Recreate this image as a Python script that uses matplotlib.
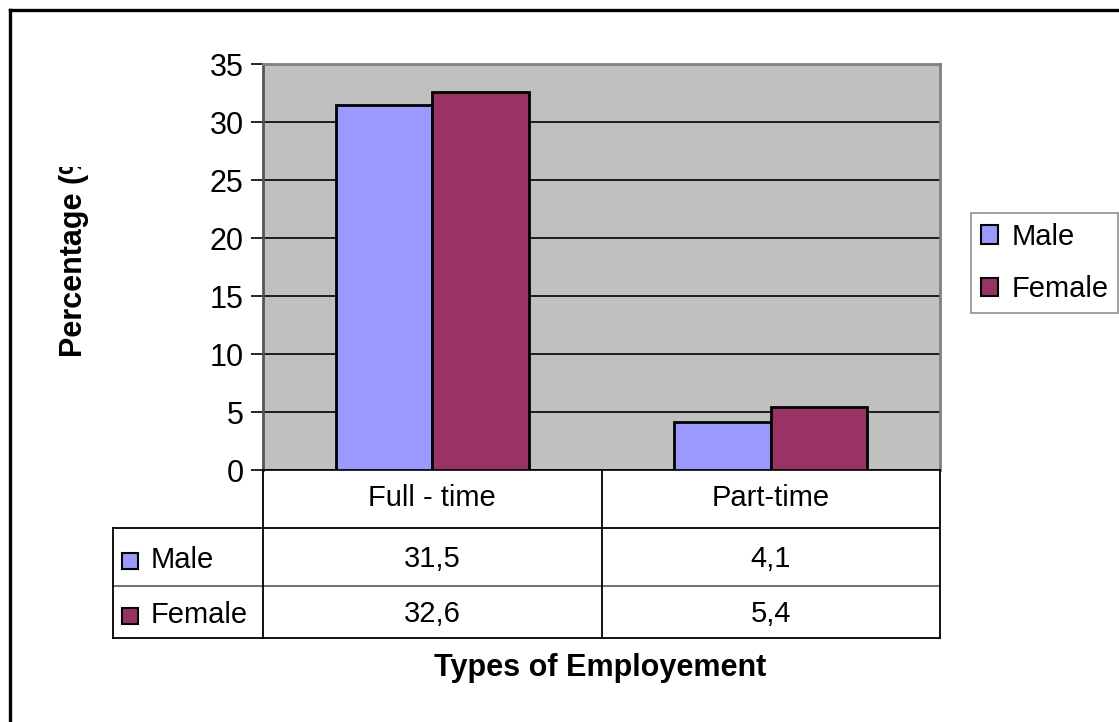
import matplotlib
matplotlib.use("Agg")
import matplotlib.pyplot as plt
import numpy as np
from matplotlib.lines import Line2D
from matplotlib.patches import Rectangle
from matplotlib import transforms

categories = ["Full - time", "Part-time"]
series_names = ["Male", "Female"]
male_values = [31.5, 4.1]
female_values = [32.6, 5.4]
y_ticks = [0, 5, 10, 15, 20, 25, 30, 35]

colors = ["#9999FF", "#993366"]
W, H = 1119, 722
FS = 21
plt.rcParams['font.family'] = ['Liberation Sans', 'DejaVu Sans']

fig = plt.figure(figsize=(W / 100, H / 100), dpi=100)
fig.patch.set_facecolor("white")

def fx(px):
    return px / W

def fy(py):
    return 1 - py / H

L, R, T, B = 263, 940, 64, 470
ax = fig.add_axes([fx(L), fy(B), fx(R) - fx(L), fy(T) - fy(B)])
ax.set_facecolor("#C0C0C0")

x = np.arange(len(categories))
bw = 0.2857
values = [male_values, female_values]
bars = []
for i, (vals, c, name) in enumerate(zip(values, colors, series_names)):
    b = ax.bar(x + (i - 0.5) * bw, vals, bw, color=c, edgecolor="black",
               linewidth=2.0, label=name, zorder=3)
    bars.append(b)

ax.set_xlim(-0.5, len(categories) - 0.5)
ax.set_ylim(0, 35)
ax.set_yticks(y_ticks)
ax.set_yticklabels([str(t) for t in y_ticks], fontsize=FS + 1)
ax.yaxis.grid(True, color="black", linewidth=1.2, zorder=1)
ax.set_axisbelow(True)
ax.set_xticks([])
ax.tick_params(axis="y", length=9, width=1.2, pad=5, direction="out")
for s in ["top", "right", "left"]:
    ax.spines[s].set_color("#808080")
    ax.spines[s].set_linewidth(2)
ax.spines["left"].set_color("#555555")
ax.spines["bottom"].set_color("black")
ax.spines["bottom"].set_linewidth(1.2)

# y label (clipped as in the reference)
yl = fig.text(fx(74), fy(357), "Percentage (%)", rotation=90, rotation_mode="anchor",
              ha="left", va="center", fontsize=22, fontweight="bold")
clip = transforms.TransformedBbox(transforms.Bbox([[0, 0], [1, fy(167)]]), fig.transFigure)
yl.set_clip_box(clip)
yl.set_clip_on(True)

# data table
bt = transforms.blended_transform_factory(ax.transData, fig.transFigure)
row_y = [528, 586, 638]
header_c = (B + row_y[0]) / 2
tl = 113
lines = []
for ry, col in zip(row_y, ["black", "#666666", "black"]):
    lines.append(Line2D([fx(tl), fx(R)], [fy(ry), fy(ry)], color=col, lw=1.3,
                        transform=fig.transFigure))
lines.append(Line2D([fx(tl), fx(tl)], [fy(row_y[0]), fy(row_y[-1])], color="black", lw=1.3,
                    transform=fig.transFigure))
lines.append(Line2D([fx(L), fx(L)], [fy(B), fy(row_y[-1])], color="black", lw=1.3,
                    transform=fig.transFigure))
for xb in np.arange(len(categories)) + 0.5:
    lines.append(Line2D([xb, xb], [fy(B), fy(row_y[-1])], color="black", lw=1.3,
                        transform=bt, clip_on=False))
for ln in lines:
    fig.add_artist(ln)

for xi, cat in zip(x, categories):
    fig.text(xi, fy(header_c - 1), cat, transform=bt, ha="center", va="center", fontsize=FS)

row_centers = [(row_y[0] + row_y[1]) / 2, (row_y[1] + row_y[2]) / 2]
for name, vals, c, rc in zip(series_names, values, colors, row_centers):
    fig.add_artist(Rectangle((fx(122), fy(rc + 12)), fx(16), 16 / H, facecolor=c,
                             edgecolor="black", lw=1.5, transform=fig.transFigure))
    fig.text(fx(151), fy(rc + 3), name, ha="left", va="center", fontsize=FS)
    for xi, v in zip(x, vals):
        fig.text(xi, fy(rc + 2), f"{v:.1f}".replace(".", ","), transform=bt,
                 ha="center", va="center", fontsize=FS)

fig.text(fx(600), fy(668), "Types of Employement", ha="center", va="center",
         fontsize=22, fontweight="bold")

# legend
leg = fig.legend(handles=bars, labels=series_names, loc="upper left",
                 bbox_to_anchor=(fx(971), fy(213)), bbox_transform=fig.transFigure,
                 fontsize=FS, frameon=True, fancybox=False, edgecolor="#808080",
                 borderaxespad=0, borderpad=0.33, handlelength=0.6, handleheight=0.6,
                 handletextpad=0.45, labelspacing=0.85)
leg.get_frame().set_linewidth(1.3)
for p in leg.get_patches():
    p.set_linewidth(1.5)

# outer chart frame
fig.add_artist(Line2D([fx(9.5), fx(9.5)], [fy(9.5), 0], color="black", lw=2.4,
                      transform=fig.transFigure))
fig.add_artist(Line2D([fx(9.5), 1], [fy(9.5), fy(9.5)], color="black", lw=2.4,
                      transform=fig.transFigure))

fig.savefig("out.png", dpi=100)
